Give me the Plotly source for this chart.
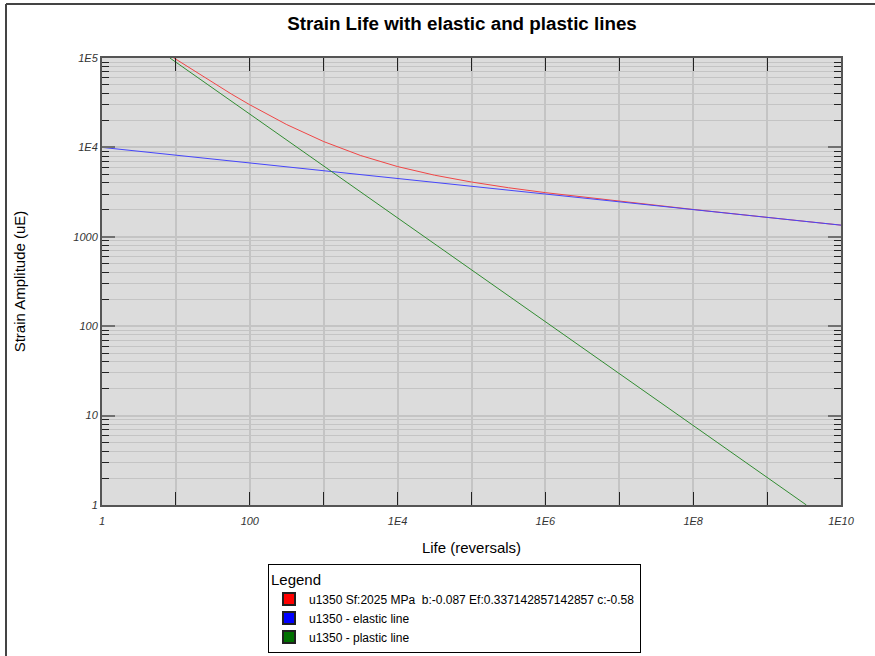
import plotly.graph_objects as go

# ---- data ----
total_x = [8.9, 10, 17.8, 31.6, 56.2, 100, 316, 1e3, 3.16e3, 1e4, 3.16e4, 1e5,
           3.16e5, 1e6, 1e7, 1e8, 1e9, 1e10]
total_y = [103000, 96900, 71300, 52900, 39600, 30000, 18000, 11620, 8110, 6100,
           4890, 4100, 3540, 3118, 2490, 2022, 1650, 1350]
elastic_x = [1, 1e10]
elastic_y = [10000, 1350]
plastic_x = [8.3, 3.4e9]
plastic_y = [100000, 1]

names = ["u1350 Sf:2025 MPa \u00a0b:-0.087 Ef:0.337142857142857 c:-0.58",
         "u1350 - elastic line",
         "u1350 - plastic line"]
line_colors = ["rgb(240,70,70)", "rgb(70,70,250)", "rgb(50,140,50)"]
legend_colors = ["#ff0000", "#0000ff", "#007000"]

x_tickvals = [10 ** k for k in range(0, 11)]
x_ticktext = ["1", "", "100", "", "1E4", "", "1E6", "", "1E8", "", "1E10"]
y_tickvals = [10 ** k for k in range(0, 6)]
y_ticktext = ["1", "10", "100", "1000", "1E4", "1E5"]

FONT = "Liberation Sans, Arial, sans-serif"

fig = go.Figure()
series = [(total_x, total_y), (elastic_x, elastic_y), (plastic_x, plastic_y)]
for (xs, ys), c in zip(series, line_colors):
    fig.add_trace(go.Scatter(x=xs, y=ys, mode="lines", line=dict(color=c, width=1),
                             showlegend=False, hoverinfo="skip"))
for n, c in zip(names, legend_colors):
    fig.add_trace(go.Scatter(x=[None], y=[None], mode="markers", name=n,
                             marker=dict(symbol="square", size=12, color=c,
                                         line=dict(color="#202020", width=1))))

fig.update_layout(
    width=875, height=656,
    margin=dict(l=102, r=34, t=58, b=151, autoexpand=False),
    paper_bgcolor="white", plot_bgcolor="#dcdcdc",
    font=dict(family=FONT, color="#000"),
    title=dict(text="<b>Strain Life with elastic and plastic lines</b>",
               x=462 / 875, xanchor="center", y=1 - 23 / 656, yanchor="middle",
               font=dict(size=18.8, family=FONT, color="#000")),
    legend=dict(x=(268 - 102) / 739, xanchor="left", y=(505 - 564) / 447, yanchor="top",
                bgcolor="white", bordercolor="#000", borderwidth=1,
                title=dict(text="Legend", font=dict(size=15, family=FONT)),
                font=dict(size=12, family=FONT), itemsizing="constant",
                itemwidth=30, tracegroupgap=0),
    showlegend=True,
)

fig.update_xaxes(
    type="log", range=[0, 10],
    tickvals=x_tickvals, ticktext=x_ticktext,
    tickfont=dict(size=11, family=FONT, color="#333", style="italic"),
    ticks="inside", ticklen=13, tickcolor="#222", tickwidth=1,
    ticklabelstandoff=5,
    showgrid=True, gridcolor="#c4c4c4", gridwidth=2,
    showline=True, linecolor="#555", linewidth=2, mirror="ticks",
    zeroline=False,
    title=dict(text="Life (reversals)", font=dict(size=15, family=FONT), standoff=16),
)
fig.update_yaxes(
    type="log", range=[0, 5],
    tickvals=y_tickvals, ticktext=y_ticktext,
    tickfont=dict(size=11, family=FONT, color="#333", style="italic"),
    ticks="inside", ticklen=13, tickcolor="#707070", tickwidth=2,
    showgrid=True, gridcolor="#c4c4c4", gridwidth=2,
    minor=dict(dtick="D1", ticks="inside", ticklen=7, tickcolor="#222", tickwidth=1,
               showgrid=True, gridcolor="#c4c4c4", gridwidth=1),
    showline=True, linecolor="#555", linewidth=2, mirror="ticks",
    zeroline=False,
    title=dict(text="Strain Amplitude (uE)", font=dict(size=15, family=FONT), standoff=44),
)

# outer frame of the chart panel
fig.add_shape(type="line", xref="paper", yref="paper",
              x0=-96 / 739, x1=1.1, y0=1 + 54 / 447, y1=1 + 54 / 447,
              line=dict(color="#444", width=2))
fig.add_shape(type="line", xref="paper", yref="paper",
              x0=-96 / 739, x1=-96 / 739, y0=1 + 54 / 447, y1=-0.4,
              line=dict(color="#444", width=2))

fig.write_html("out.html")
